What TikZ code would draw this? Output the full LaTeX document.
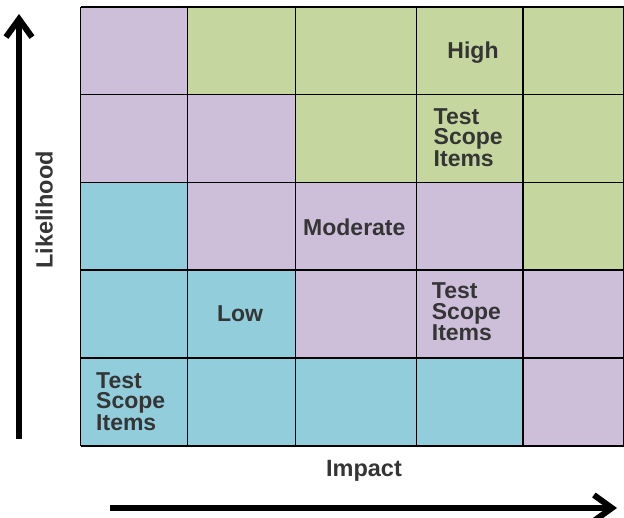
\documentclass[tikz,border=0pt]{standalone}
\usepackage{fontspec}
\setmainfont{Liberation Sans}
\usetikzlibrary{arrows.meta}
\definecolor{cp}{HTML}{CDBFD9}
\definecolor{cg}{HTML}{C5D79F}
\definecolor{cb}{HTML}{91CDDB}
\definecolor{tx}{HTML}{353535}
\tikzset{
  cell/.style={draw=black, line width=1.3pt},
  lbl/.style={font=\bfseries\fontsize{23}{20.5}\selectfont, text=tx, inner sep=0pt, align=left},
  axis/.style={font=\bfseries\fontsize{23.5}{24}\selectfont, text=tx, inner sep=0pt},
  bigarrow/.style={line width=6.5pt, -{Straight Barb[length=18pt,width=26pt,line width=6pt]}}
}
\begin{document}
\begin{tikzpicture}[x=1pt,y=-1pt]
\useasboundingbox (0,0) rectangle (624,518);
\def\xa{80.5}\def\xb{187.5}\def\xc{295.5}\def\xd{416.5}\def\xe{523}\def\xf{624}
\def\ya{7}\def\yb{94.5}\def\yc{182.5}\def\yd{270}\def\ye{358}\def\yf{446}
% row 1
\fill[cp] (\xa,\ya) rectangle (\xb,\yb);
\fill[cg] (\xb,\ya) rectangle (\xf,\yb);
% row 2
\fill[cp] (\xa,\yb) rectangle (\xc,\yc);
\fill[cg] (\xc,\yb) rectangle (\xf,\yc);
% row 3
\fill[cb] (\xa,\yc) rectangle (\xb,\yd);
\fill[cp] (\xb,\yc) rectangle (\xe,\yd);
\fill[cg] (\xe,\yc) rectangle (\xf,\yd);
% row 4
\fill[cb] (\xa,\yd) rectangle (\xc,\ye);
\fill[cp] (\xc,\yd) rectangle (\xf,\ye);
% row 5
\fill[cb] (\xa,\ye) rectangle (\xe,\yf);
\fill[cp] (\xe,\ye) rectangle (\xf,\yf);
% grid
\foreach \x in {\xa,\xb,\xc,\xd,\xe,\xf} \draw[cell] (\x,\ya) -- (\x,\yf);
\foreach \y in {\ya,\yb,\yc,\yd,\ye,\yf} \draw[cell] (\xa,\y) -- (\xf,\y);
% labels
\node[lbl, anchor=base] (high) at (473,59) {High};
\node[lbl, anchor=base west] (tsi1) at (433.5,166.5) {Test\\Scope\\Items};
\node[lbl, anchor=base west] (mod) at (303,235.7) {Moderate};
\node[lbl, anchor=base] (low) at (240,321.7) {Low};
\node[lbl, anchor=base west] (tsi2) at (431.7,340.7) {Test\\Scope\\Items};
\node[lbl, anchor=base west] (tsi3) at (96,430.5) {Test\\Scope\\Items};
\node[axis, rotate=90, anchor=base] (lik) at (52.5,210) {Likelihood};
\node[axis, anchor=base] (imp) at (364,476) {Impact};
% arrows
\coordinate (v0) at (19,439);
\coordinate (v1) at (19,14);
\coordinate (h0) at (110,508);
\coordinate (h1) at (617,508);
\draw[bigarrow] (v0) -- (v1);
\draw[bigarrow] (h0) -- (h1);
\end{tikzpicture}
\end{document}
